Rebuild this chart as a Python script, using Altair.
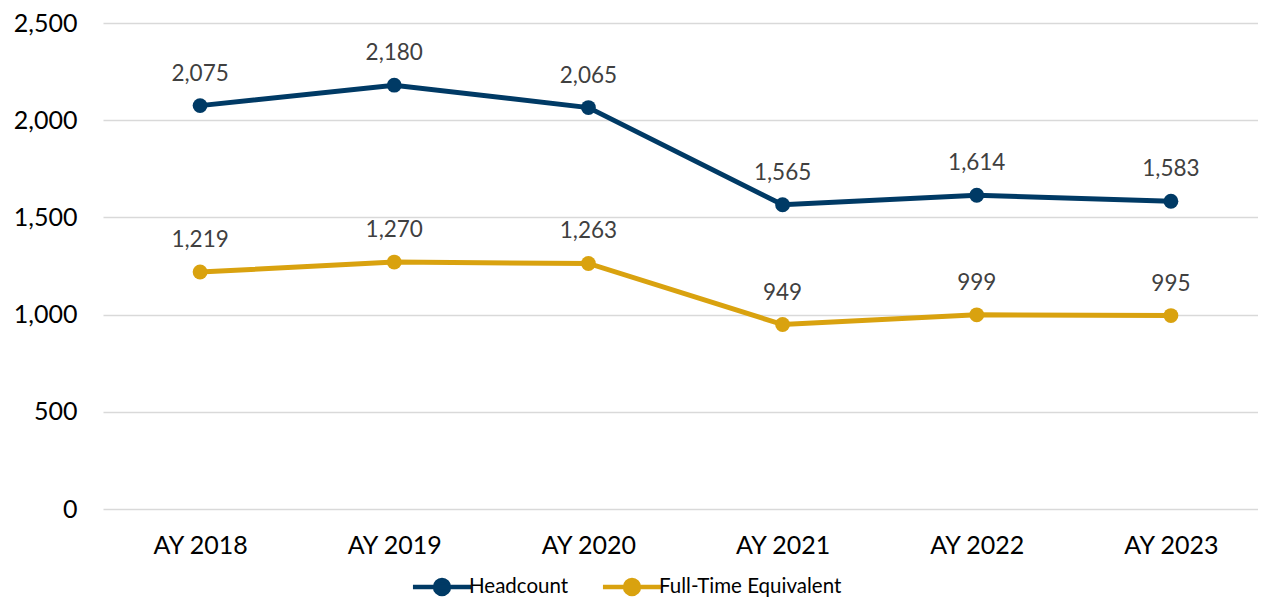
import altair as alt
import pandas as pd

years = ["AY 2018", "AY 2019", "AY 2020", "AY 2021", "AY 2022", "AY 2023"]
headcount = [2075, 2180, 2065, 1565, 1614, 1583]
fte = [1219, 1270, 1263, 949, 999, 995]
series_names = ["Headcount", "Full-Time Equivalent"]
colors = ["#003A65", "#D9A20F"]

rows = []
for y, h, f in zip(years, headcount, fte):
    rows.append({"year": y, "series": series_names[0], "value": h})
    rows.append({"year": y, "series": series_names[1], "value": f})
df = pd.DataFrame(rows)

FONT = "Lato"
legend_path = ("M -1.5 0 L 1.5 0 M 0.36 0 A 0.36 0.36 0 1 1 -0.36 0 "
               "A 0.36 0.36 0 1 1 0.36 0 Z")

x = alt.X("year:N", sort=years, title=None,
          scale=alt.Scale(paddingInner=0, paddingOuter=0, range=[0, 1165]),
          axis=alt.Axis(labelAngle=0, labelFontSize=25, labelColor="#000000",
                        labelFont=FONT, ticks=False, domain=False,
                        labelPadding=24, grid=False))
y = alt.Y("value:Q", title=None,
          scale=alt.Scale(domain=[0, 2500]),
          axis=alt.Axis(values=[0, 500, 1000, 1500, 2000, 2500], format=",.0f",
                        labelFontSize=25, labelColor="#000000", labelFont=FONT,
                        ticks=False, domain=False, labelPadding=26,
                        grid=True, gridColor="#D9D9D9", gridWidth=1.5))
color = alt.Color("series:N", sort=series_names, title=None,
                  scale=alt.Scale(domain=series_names, range=colors),
                  legend=alt.Legend(orient="none", direction="horizontal",
                                    legendX=317, legendY=542,
                                    symbolType=legend_path, symbolSize=1500,
                                    symbolStrokeWidth=4.5, labelOffset=5,
                                    labelFontSize=20.5, labelFont=FONT,
                                    labelLimit=400,
                                    labelColor="#000000", columnPadding=24))

base = alt.Chart(df).encode(x=x, y=y, color=color)

lines = base.mark_line(strokeWidth=5, point=alt.OverlayMarkDef(size=220, filled=True, opacity=1))
labels = base.mark_text(dy=-32, fontSize=22.5, font=FONT, color="#404040").encode(
    text=alt.Text("value:Q", format=",.0f"), color=alt.value("#404040"))

chart = (lines + labels).properties(
    width=1155, height=486,
    autosize=alt.AutoSizeParams(type="none"),
    padding={"left": 95, "top": 15, "right": 0, "bottom": 89},
).configure_view(stroke=None)

chart.save("out.html", embed_options={"renderer": "svg", "actions": False})
